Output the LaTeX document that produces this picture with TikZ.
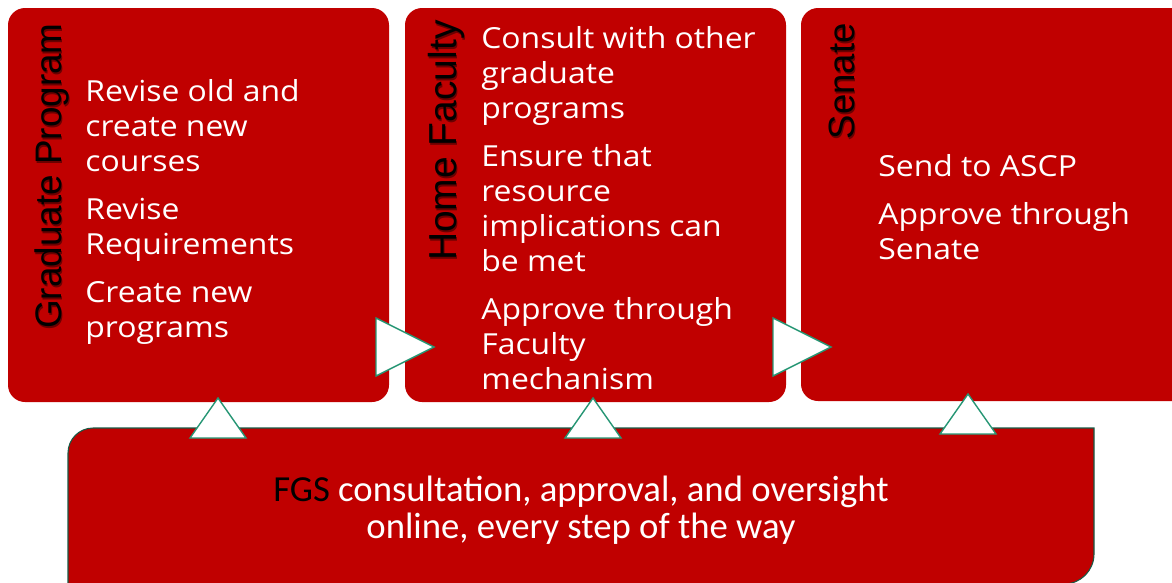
\documentclass[tikz,border=0pt]{standalone}
\usepackage{fontspec}
\setmainfont{Open Sans}
\newfontfamily\stagefont[FakeStretch=1.1]{Open Sans}
\newfontfamily\titlefont{Liberation Sans}
\newfontfamily\calibrifont{Carlito}
\definecolor{fgsred}{RGB}{192,0,0}
\definecolor{flowline}{RGB}{38,150,116}
\tikzset{
  stagebox/.style={fill=fgsred, rounded corners=9.7pt},
  stagetitle/.style={rotate=90, anchor=base east, inner sep=0pt, text=black},
  titleshadow/.style={stagetitle, text=black!45!fgsred},
  stagetext/.style={anchor=base west, inner sep=0pt, align=left, text=white,
    font=\stagefont\fontsize{16.5}{19.9}\selectfont},
  flowtri/.style={fill=white, draw=flowline, line width=0.8pt, line join=miter},
}

\begin{document}
\begin{tikzpicture}[x=0.02cm, y=-0.02cm]
			%%%%% START %%%%%
			\useasboundingbox (0, 0) rectangle (1172, 582);
			\clip (0, 0) rectangle (1172, 582);
			
			% stage boxes
			\fill[stagebox] (8, 8) rectangle (389, 402);
			\fill[stagebox] (405, 8) rectangle (786, 402);
			\fill[stagebox] (801, 8) rectangle (1200, 401);
			
			% FGS box along the bottom
			\draw[fill=fgsred, draw=flowline!60!black, line width=0.6pt] (68, 590) -- (68, 453) arc (180:270:25) -- (1094, 428) -- (1094, 554) arc (0:90:30) -- (1060, 590) -- cycle;
			
			% titles (with a soft shadow)
			\node[titleshadow, font=\titlefont\fontsize{21}{24}\selectfont] at (62.5, 25) {Graduate Program};
			\node[stagetitle, font=\titlefont\fontsize{21}{24}\selectfont] (gradtitle) at (61, 23) {Graduate Program};
			\node[titleshadow, font=\titlefont\fontsize{22.2}{24}\selectfont] at (457.5, 22) {Home Faculty};
			\node[stagetitle, font=\titlefont\fontsize{22.2}{24}\selectfont] (hometitle) at (456, 20) {Home Faculty};
			\node[titleshadow, font=\titlefont\fontsize{20.8}{24}\selectfont] at (855.5, 25) {Senate};
			\node[stagetitle, font=\titlefont\fontsize{20.8}{24}\selectfont] (senatetitle) at (854, 23) {Senate};
			
			% stage contents
			\node[stagetext] (gradtext) at (85, 337) {Revise old and\\ create new\\ courses\\[7.4pt] Revise\\ Requirements\\[7.4pt] Create new\\ programs};
			\node[stagetext] (hometext) at (481, 389) {Consult with other\\ graduate\\ programs\\[7.4pt] Ensure that\\ resource\\ implications can\\ be met\\[7.4pt] Approve through\\ Faculty\\ mechanism};
			\node[stagetext] (senatetext) at (878, 259) {Send to ASCP\\[7.4pt] Approve through\\ Senate};
			
			\node[align=center, text=white, inner sep=0pt, font=\calibrifont\fontsize{20.9}{21}\selectfont] (fgstext) at (581, 510) {\textcolor{black}{FGS} consultation, approval, and oversight\\ online, every step of the way};
			
			% flow arrows
			\draw[flowtri] (376, 318) -- (434, 347) -- (376, 376) -- cycle;
			\draw[flowtri] (773, 318) -- (831, 347) -- (773, 376) -- cycle;
			\draw[flowtri] (190, 438) -- (218, 398) -- (246, 438) -- cycle;
			\draw[flowtri] (565, 438) -- (593, 398) -- (621, 438) -- cycle;
			\draw[flowtri] (940, 434) -- (968, 394) -- (996, 434) -- cycle;
			%%%%% END %%%%%
\end{tikzpicture}
\end{document}
